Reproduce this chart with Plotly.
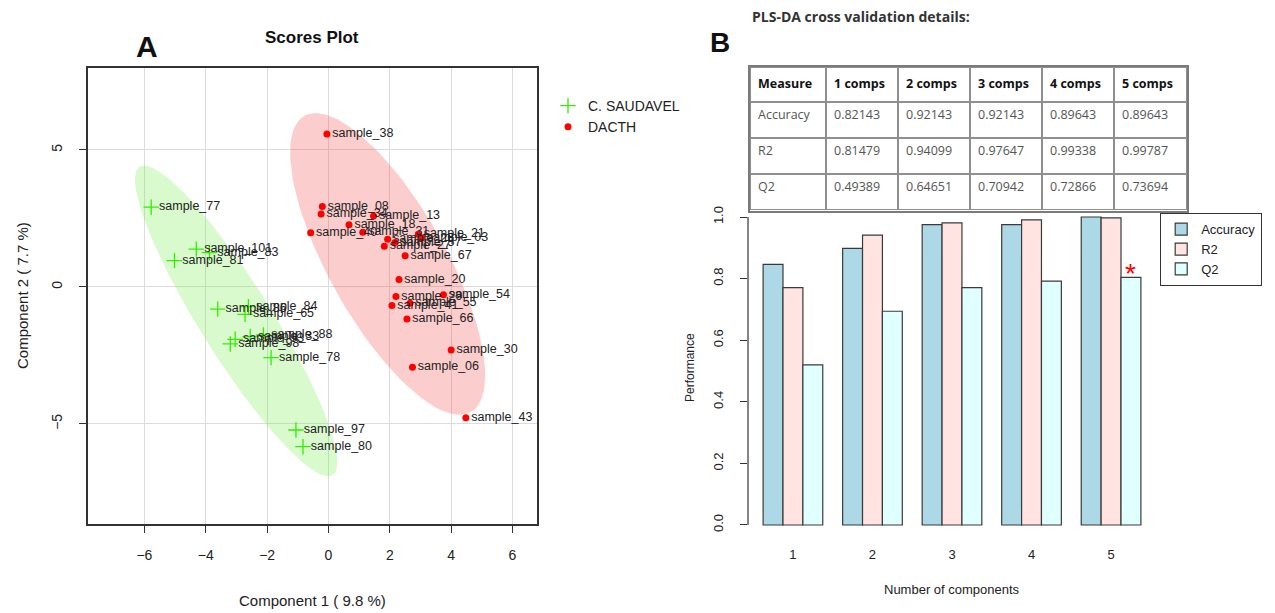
import numpy as np
import plotly.graph_objects as go

# ---------------- data ----------------
green_names = ["sample_77", "sample_101", "sample_83", "sample_81", "sample_86", "sample_84",
               "sample_65", "sample_98", "sample_93", "sample_33", "sample_88", "sample_78",
               "sample_97", "sample_80"]
green_x = [-5.78, -4.31, -3.88, -5.02, -3.61, -2.61, -2.72, -3.20, -3.04, -2.55, -2.12, -1.87, -1.06, -0.83]
green_y = [2.91, 1.38, 1.25, 0.96, -0.81, -0.72, -1.00, -2.08, -1.91, -1.81, -1.75, -2.58, -5.22, -5.83]

red_names = ["sample_38", "sample_08", "sample_34", "sample_13", "sample_18", "sample_40", "sample_31",
             "sample_25", "sample_27", "sample_57", "sample_21", "sample_03", "sample_67", "sample_20",
             "sample_29", "sample_54", "sample_41", "sample_55", "sample_66", "sample_30", "sample_06",
             "sample_43"]
red_x = [-0.05, -0.20, -0.24, 1.47, 0.67, -0.58, 1.12, 1.93, 1.82, 2.17, 2.93, 3.04, 2.50, 2.30,
         2.20, 3.75, 2.07, 2.66, 2.56, 4.00, 2.74, 4.48]
red_y = [5.58, 2.94, 2.66, 2.59, 2.27, 1.98, 2.00, 1.74, 1.49, 1.62, 1.92, 1.80, 1.14, 0.27,
         -0.35, -0.28, -0.68, -0.59, -1.17, -2.30, -2.93, -4.77]

group_labels = ["C. SAUDAVEL", "DACTH"]

components = [1, 2, 3, 4, 5]
bar_accuracy = [0.846, 0.898, 0.975, 0.975, 1.000]
bar_r2 = [0.771, 0.941, 0.981, 0.991, 0.997]
bar_q2 = [0.520, 0.694, 0.771, 0.792, 0.804]

table_header = ["Measure", "1 comps", "2 comps", "3 comps", "4 comps", "5 comps"]
table_measures = ["Accuracy", "R2", "Q2"]
table_accuracy = [0.82143, 0.92143, 0.92143, 0.89643, 0.89643]
table_r2 = [0.81479, 0.94099, 0.97647, 0.99338, 0.99787]
table_q2 = [0.49389, 0.64651, 0.70942, 0.72866, 0.73694]

# ellipse shapes (centre x, centre y, semi-major, semi-minor, angle deg)
green_ellipse = (-3.01, -1.24, 6.45, 1.2, -61.0)
red_ellipse = (1.93, 0.84, 6.05, 1.95, -64.0)

W, H = 1275, 613


def px_x(p):
    return p / W


def px_y(p):
    return 1 - p / H


def ellipse_path(cx, cy, a, b, ang, n=120):
    t = np.linspace(0, 2 * np.pi, n)
    th = np.deg2rad(ang)
    x = cx + a * np.cos(t) * np.cos(th) - b * np.sin(t) * np.sin(th)
    y = cy + a * np.cos(t) * np.sin(th) + b * np.sin(t) * np.cos(th)
    return x, y


fig = go.Figure()

gx, gy = ellipse_path(*green_ellipse)
fig.add_trace(go.Scatter(x=gx, y=gy, mode="lines", fill="toself", line=dict(width=0),
                         fillcolor="rgba(110,235,70,0.27)", hoverinfo="skip", showlegend=False,
                         xaxis="x", yaxis="y"))
rx, ry = ellipse_path(*red_ellipse)
fig.add_trace(go.Scatter(x=rx, y=ry, mode="lines", fill="toself", line=dict(width=0),
                         fillcolor="rgba(245,70,70,0.27)", hoverinfo="skip", showlegend=False,
                         xaxis="x", yaxis="y"))

label_font = dict(family="Liberation Sans, Arial", size=12.5, color="#222")
fig.add_trace(go.Scatter(x=green_x, y=green_y, text=green_names, mode="markers+text",
                         textposition="middle right", textfont=label_font,
                         marker=dict(symbol="cross-thin", size=11, color="#33ee00",
                                     line=dict(width=1.3, color="#33ee00")),
                         name=group_labels[0], xaxis="x", yaxis="y", legend="legend"))
fig.add_trace(go.Scatter(x=red_x, y=red_y, text=red_names, mode="markers+text",
                         textposition="middle right", textfont=label_font,
                         marker=dict(symbol="circle", size=7, color="#ff0000"),
                         name=group_labels[1], xaxis="x", yaxis="y", legend="legend"))

bar_line = dict(color="#3a3a3a", width=1.2)
fig.add_trace(go.Bar(x=components, y=bar_accuracy, name="Accuracy",
                     marker=dict(color="#ADD8E6", line=bar_line), xaxis="x2", yaxis="y2", legend="legend2"))
fig.add_trace(go.Bar(x=components, y=bar_r2, name="R2",
                     marker=dict(color="#FFE4E1", line=bar_line), xaxis="x2", yaxis="y2", legend="legend2"))
fig.add_trace(go.Bar(x=components, y=bar_q2, name="Q2",
                     marker=dict(color="#E0FFFF", line=bar_line), xaxis="x2", yaxis="y2", legend="legend2"))

cell_cols = [table_measures]
for i in range(len(table_accuracy)):
    cell_cols.append([f"{table_accuracy[i]:.5f}", f"{table_r2[i]:.5f}", f"{table_q2[i]:.5f}"])

fig.add_trace(go.Table(
    domain=dict(x=[px_x(750), px_x(1187)], y=[px_y(211), px_y(67)]),
    columnwidth=[76, 72, 72, 72, 72, 73],
    header=dict(values=[f"<b>{h}</b>" for h in table_header], align="left", height=35,
                font=dict(family="Open Sans, Noto Sans", size=12.5, color="#111"),
                fill=dict(color="white"), line=dict(color="#8f8f8f", width=2)),
    cells=dict(values=cell_cols, align="left", height=36,
               font=dict(family="Open Sans, Noto Sans", size=12.5, color="#555"),
               fill=dict(color="white"), line=dict(color="#8f8f8f", width=2)),
))

axis_font = dict(family="Liberation Sans, Arial", size=14, color="#222")


def note(text, x, y, size, family="Liberation Sans, Arial", color="#111", **kw):
    d = dict(text=text, x=px_x(x), y=px_y(y), xref="paper", yref="paper", showarrow=False,
             xanchor="center", yanchor="middle", font=dict(family=family, size=size, color=color))
    d.update(kw)
    return d


fig.update_layout(
    width=W, height=H, margin=dict(l=0, r=0, t=0, b=0),
    paper_bgcolor="white", plot_bgcolor="white",
    barmode="group", bargap=0.25, bargroupgap=0,
    font=dict(family="Liberation Sans, Arial", color="#222"),
    xaxis=dict(domain=[px_x(88), px_x(537)], range=[-7.84, 6.80], anchor="y",
               tickvals=[-6, -4, -2, 0, 2, 4, 6], ticks="outside", ticklen=7, tickcolor="#333",
               showline=True, mirror=True, linecolor="#333", linewidth=1.5,
               showgrid=True, gridcolor="#dcdcdc", gridwidth=1, zeroline=False,
               tickfont=axis_font, ticklabelstandoff=10),
    yaxis=dict(domain=[px_y(524), px_y(68)], range=[-8.65, 7.99], anchor="x",
               tickvals=[-5, 0, 5], ticks="outside", ticklen=7, tickcolor="#333", tickangle=-90,
               showline=True, mirror=True, linecolor="#333", linewidth=1.5,
               showgrid=True, gridcolor="#dcdcdc", gridwidth=1, zeroline=False,
               tickfont=axis_font, ticklabelstandoff=12),
    xaxis2=dict(domain=[px_x(748), px_x(1156)], range=[0.435, 5.565], anchor="y2",
                tickvals=components, ticks="", showline=False, showgrid=False, zeroline=False,
                tickfont=dict(family="Liberation Sans, Arial", size=13, color="#222"),
                ticklabelstandoff=8),
    yaxis2=dict(domain=[px_y(537.3), px_y(204.7)], range=[-0.04, 1.04], anchor="x2",
                tickvals=[0, 0.2, 0.4, 0.6, 0.8, 1.0],
                ticktext=["0.0", "0.2", "0.4", "0.6", "0.8", "1.0"],
                ticks="outside", ticklen=7, tickcolor="#333", tickangle=-90,
                showline=False, showgrid=False, zeroline=False,
                tickfont=dict(family="Liberation Sans, Arial", size=13, color="#222"),
                ticklabelstandoff=12),
    legend=dict(x=px_x(548), y=px_y(90), xanchor="left", yanchor="top",
                font=dict(family="Liberation Sans, Arial", size=14, color="#222"),
                bgcolor="rgba(0,0,0,0)", tracegroupgap=0, itemwidth=30),
    legend2=dict(x=px_x(1160), y=px_y(213), xanchor="left", yanchor="top",
                 font=dict(family="Liberation Sans, Arial", size=13, color="#222"),
                 bgcolor="white", bordercolor="#333", borderwidth=1.2, tracegroupgap=0),
    shapes=[
        dict(type="line", xref="x2 domain", yref="y2", x0=0, x1=0, y0=0, y1=1,
             line=dict(color="#333", width=1.2)),
        dict(type="rect", xref="paper", yref="paper", x0=px_x(749), x1=px_x(1188),
             y0=px_y(212), y1=px_y(66), line=dict(color="#7a7a7a", width=2)),
    ],
    annotations=[
        note("<b>A</b>", 147, 46, 30),
        note("<b>Scores Plot</b>", 312, 38, 17),
        note("<b>B</b>", 720, 42, 28),
        note("<b>PLS-DA cross validation details:</b>", 750, 17, 14, family="Open Sans, Noto Sans",
             color="#333", xanchor="left"),
        note("Component 1 ( 9.8 %)", 312, 600, 15, color="#222"),
        note("Component 2 ( 7.7 %)", 22, 296, 15, color="#222", textangle=-90),
        note("Performance", 690, 368, 12, color="#222", textangle=-90),
        note("Number of components", 952, 589, 13, color="#222"),
        dict(text="*", x=5.25, y=bar_q2[4], xref="x2", yref="y2", yanchor="bottom", yshift=-14,
             showarrow=False, font=dict(family="Liberation Sans, Arial", size=28, color="#ff0000")),
    ],
)

fig.write_html("out.html")
